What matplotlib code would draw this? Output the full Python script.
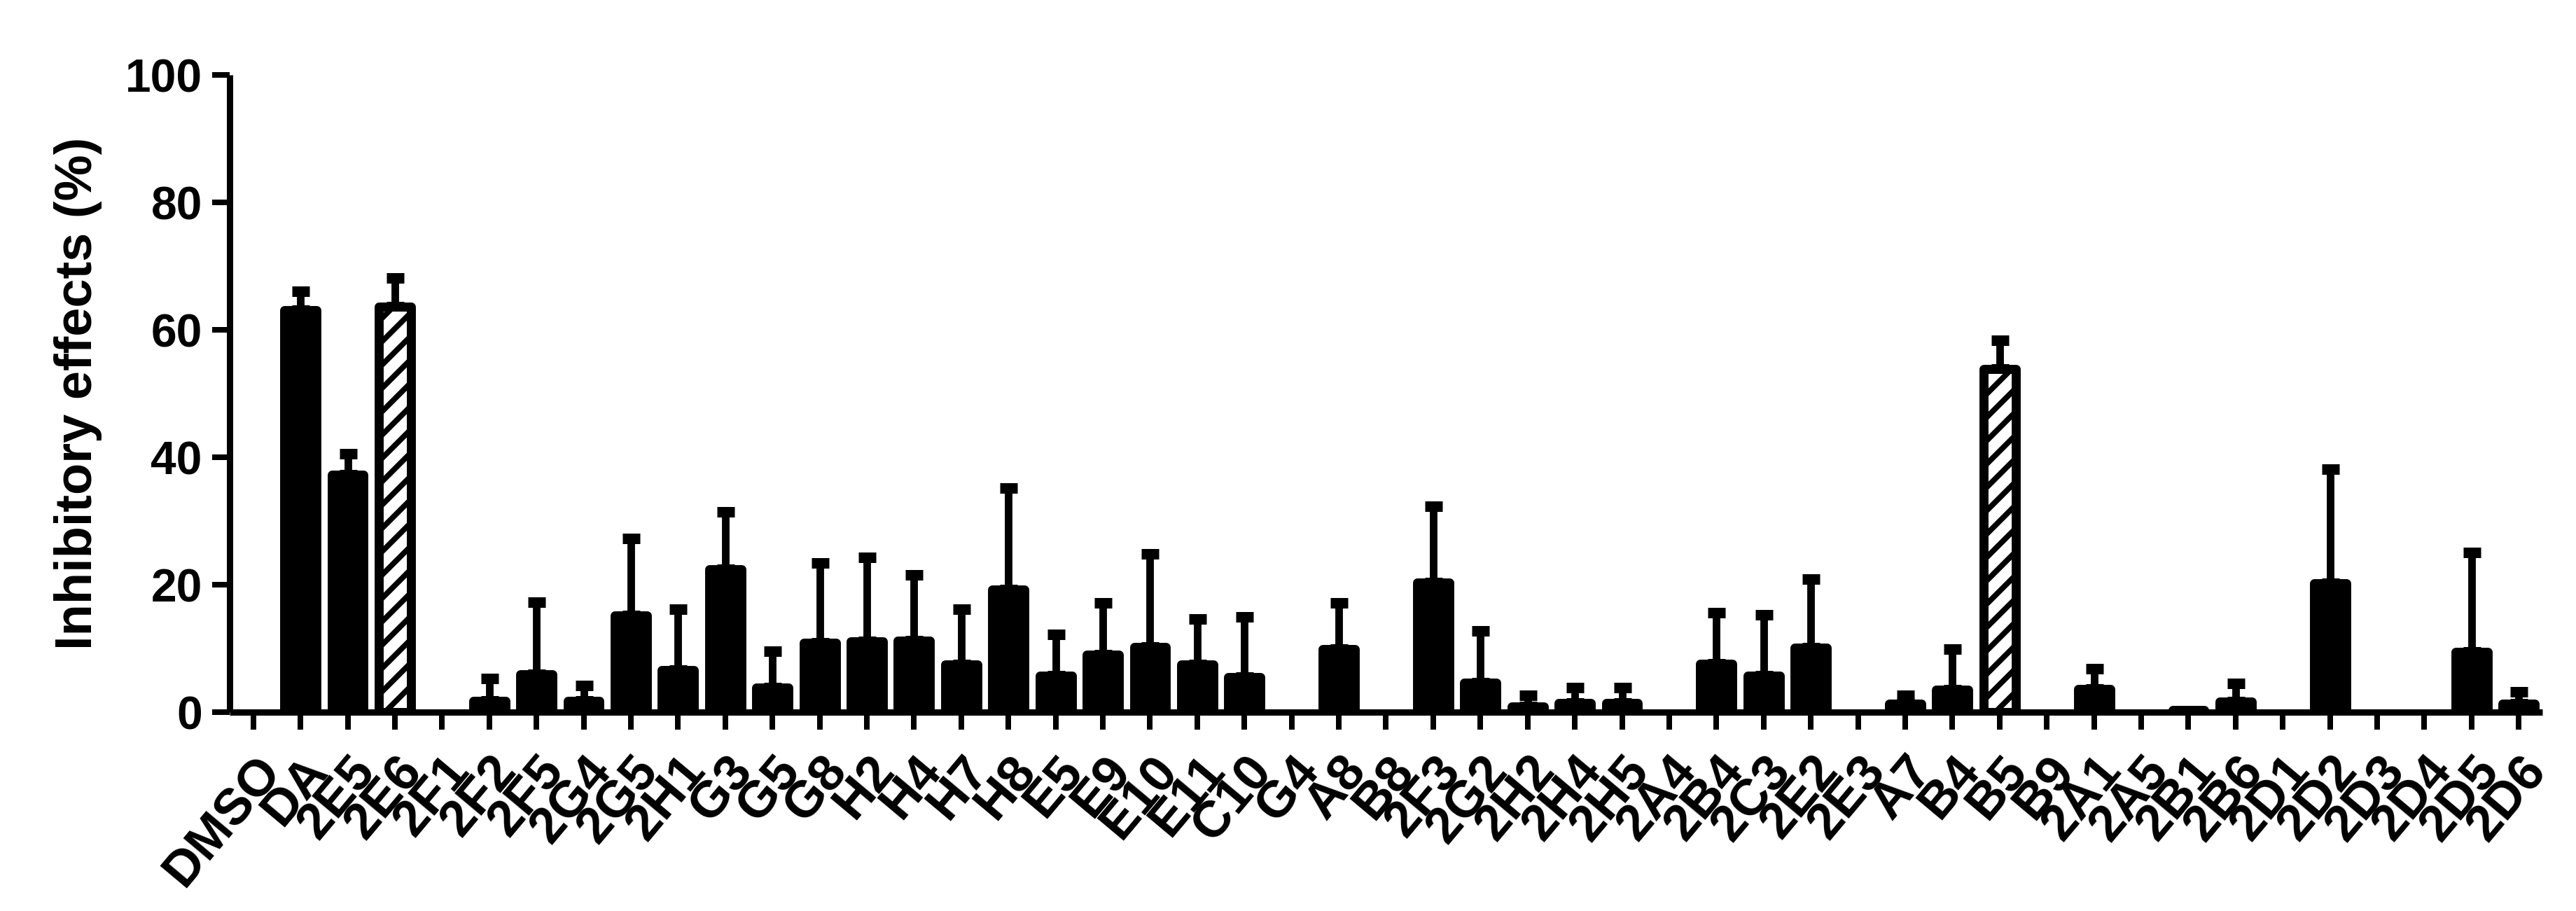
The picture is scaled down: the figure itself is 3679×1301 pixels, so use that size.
import numpy as np
import matplotlib
matplotlib.use("Agg")
import matplotlib.pyplot as plt
import matplotlib.transforms as mtransforms

plt.rcParams['font.family'] = ['Liberation Sans', 'DejaVu Sans']
plt.rcParams['hatch.linewidth'] = 1.9
plt.rcParams['hatch.color'] = 'black'

categories = ["DMSO", "DA", "2E5", "2E6", "2F1", "2F2", "2F5", "2G4", "2G5", "2H1",
              "G3", "G5", "G8", "H2", "H4", "H7", "H8", "E5", "E9", "E10",
              "E11", "C10", "G4", "A8", "B8", "2F3", "2G2", "2H2", "2H4", "2H5",
              "2A4", "2B4", "2C3", "2E2", "2E3", "A7", "B4", "B5", "B9", "2A1",
              "2A5", "2B1", "2B6", "2D1", "2D2", "2D3", "2D4", "2D5", "2D6"]

means = [0.0, 63.1, 37.2, 63.6, 0.0, 1.8, 5.9, 1.8, 15.2, 6.6,
         22.4, 3.9, 10.9, 11.1, 11.2, 7.5, 19.2, 5.7, 9.0, 10.2,
         7.5, 5.5, 0.0, 9.9, 0.0, 20.3, 4.6, 0.9, 1.4, 1.4,
         0.0, 7.6, 5.7, 10.1, 0.0, 1.3, 3.5, 53.8, 0.0, 3.6,
         0.0, 0.3, 1.7, 0.0, 20.2, 0.0, 0.0, 9.5, 1.3]

errors = [0.0, 2.9, 3.4, 4.5, 0.0, 3.5, 11.3, 2.4, 12.1, 9.5,
          9.0, 5.7, 12.5, 13.2, 10.3, 8.6, 16.0, 6.5, 8.1, 14.6,
          7.1, 9.5, 0.0, 7.2, 0.0, 12.0, 8.1, 1.7, 2.5, 2.5,
          0.0, 8.0, 9.6, 10.8, 0.0, 1.3, 6.4, 4.5, 0.0, 3.2,
          0.0, 0.0, 2.8, 0.0, 17.9, 0.0, 0.0, 15.6, 1.9]

hatched = ["2E6", "B5"]

y_ticks = [0, 20, 40, 60, 80, 100]
y_label = "Inhibitory effects (%)"

W, H, DPI = 3679, 1301, 300
fig = plt.figure(figsize=(W / DPI, H / DPI), dpi=DPI)
ax = fig.add_axes([328 / W, (H - 1017) / H, 3303 / W, (1017 - 107) / H])

x = np.arange(len(categories))
means_a = np.array(means)
err_a = np.array(errors)
is_hatch = np.array([c in hatched for c in categories])
nonzero = means_a > 0

bw = 0.68
edge_lw = 3.1

solid = nonzero & ~is_hatch
hat = nonzero & is_hatch
ax.bar(x[solid], means_a[solid], width=bw, color='black', edgecolor='black',
       linewidth=edge_lw, joinstyle='round', zorder=3)
ax.bar(x[hat], means_a[hat], width=bw, color='white', edgecolor='black',
       linewidth=edge_lw, joinstyle='round', hatch='///', zorder=3)

has_err = nonzero & (err_a > 0)
ax.errorbar(x[has_err], means_a[has_err],
            yerr=[np.zeros(has_err.sum()), err_a[has_err]],
            fmt='none', ecolor='black', elinewidth=2.6, capsize=3.0,
            capthick=3.6, zorder=2)

ax.set_xlim(-0.5, len(categories) - 0.5)
ax.set_ylim(0, 100)
ax.set_yticks(y_ticks)
ax.set_yticklabels([str(t) for t in y_ticks], fontsize=15.8, fontweight='bold')
ax.set_xticks(x)
ax.set_xticklabels(categories, rotation=50, ha='right', va='top',
                   rotation_mode='anchor', fontsize=17.5, fontweight='bold')
offset = mtransforms.ScaledTranslation(1.2 / 72, 0, fig.dpi_scale_trans)
for lab in ax.get_xticklabels():
    lab.set_transform(lab.get_transform() + offset)

for s in ['top', 'right']:
    ax.spines[s].set_visible(False)
for s in ['left', 'bottom']:
    ax.spines[s].set_linewidth(2.16)
    ax.spines[s].set_capstyle('butt')

ax.tick_params(axis='both', direction='out', width=1.92, length=6, color='black')
ax.tick_params(axis='y', pad=3.4)
ax.tick_params(axis='x', pad=6)

ax.set_ylabel(y_label, fontsize=17.8, fontweight='bold')
ax.yaxis.set_label_coords(-0.055, 0.5)

fig.savefig("out.png", dpi=DPI, facecolor='white')
